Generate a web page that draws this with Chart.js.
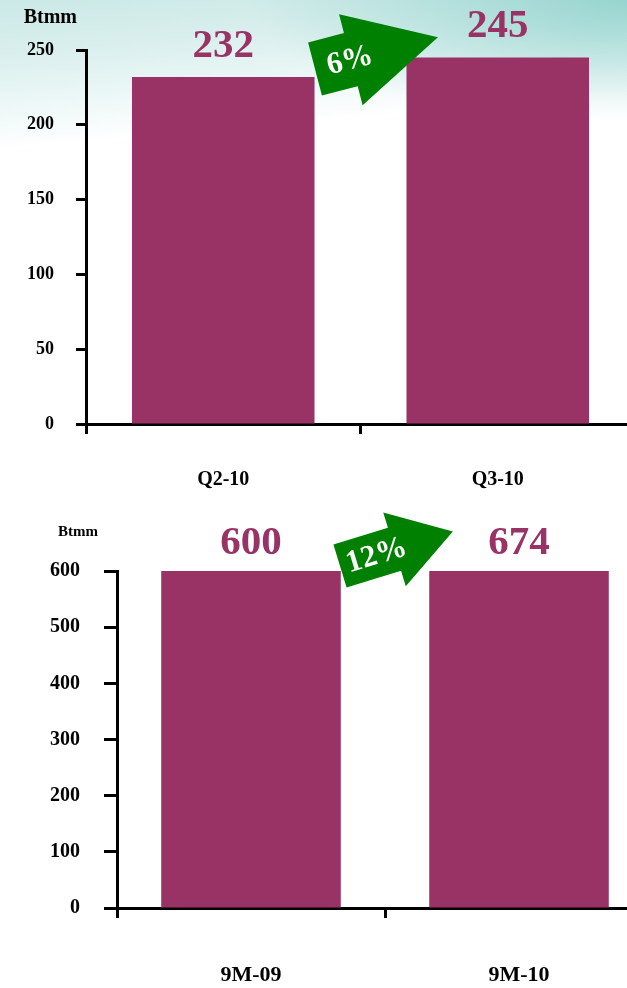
<!DOCTYPE html>
<html>
<head>
<meta charset="utf-8">
<script src="https://cdn.jsdelivr.net/npm/chart.js@4"></script>
<style>
  body { margin: 0; background: #fff; }
  #wrap {
    position: relative; width: 627px; height: 988px; overflow: hidden;
    background:
      radial-gradient(ellipse 380px 120px at 100% 0%, rgba(140,208,202,0.85) 0%, rgba(140,208,202,0) 100%),
      linear-gradient(175deg, #cbe9e6 0%, #d5edeb 40px, #e6f5f4 90px, #ffffff 150px);
  }
  canvas { position: absolute; left: 0; }
  #topChart { top: 0; }
  #bottomChart { top: 500px; }
</style>
</head>
<body>
<div id="wrap">
  <canvas id="topChart" width="640" height="500"></canvas>
  <canvas id="bottomChart" width="660" height="488"></canvas>
</div>
<script>
// quarterly volumes
const quarterLabels = ["Q2-10", "Q3-10"];
const quarterValues = [232, 245];
const quarterGrowth = "6%";

// nine-month volumes
const nineMonthLabels = ["9M-09", "9M-10"];
const nineMonthValues = [600, 674];
const nineMonthGrowth = "12%";

const unitLabel = "Btmm";
const barColor = "#993366";
const serif = "'Liberation Serif', 'Times New Roman', serif";

// value labels above the bars (clipped bars get their label at the top of the plot)
const valueLabels = {
  id: "valueLabels",
  afterDatasetsDraw(chart, args, opts) {
    const ctx = chart.ctx;
    const area = chart.chartArea;
    const meta = chart.getDatasetMeta(0);
    ctx.save();
    ctx.fillStyle = barColor;
    ctx.font = "bold " + opts.size + "px " + serif;
    ctx.textAlign = "center";
    ctx.textBaseline = "middle";
    meta.data.forEach(function (bar, i) {
      const y = Math.max(bar.y, area.top) - opts.offset;
      ctx.fillText(chart.data.datasets[0].data[i], bar.x, y);
    });
    ctx.restore();
  }
};

// unit text and the green growth arrow
const decorations = {
  id: "decorations",
  afterDraw(chart, args, opts) {
    const ctx = chart.ctx;
    ctx.save();
    ctx.fillStyle = "#000";
    ctx.font = "bold " + opts.unitSize + "px " + serif;
    ctx.textAlign = "right";
    ctx.textBaseline = "middle";
    ctx.fillText(unitLabel, opts.unitX, opts.unitY);

    const a = opts.arrow;
    ctx.translate(a.x, a.y);
    ctx.rotate(a.angle * Math.PI / 180);
    ctx.beginPath();
    ctx.moveTo(0, -a.shaftW / 2);
    ctx.lineTo(a.shaftLen, -a.shaftW / 2);
    ctx.lineTo(a.shaftLen, -a.headW / 2);
    ctx.lineTo(a.shaftLen + a.headLen, 0);
    ctx.lineTo(a.shaftLen, a.headW / 2);
    ctx.lineTo(a.shaftLen, a.shaftW / 2);
    ctx.lineTo(0, a.shaftW / 2);
    ctx.closePath();
    ctx.fillStyle = "#008000";
    ctx.fill();
    ctx.fillStyle = "#fff";
    ctx.font = "bold " + a.fontSize + "px " + serif;
    ctx.textAlign = "center";
    ctx.fillText(a.text, a.textX, 1);
    ctx.restore();
  }
};

function makeChart(id, labels, values, o) {
  new Chart(document.getElementById(id).getContext("2d"), {
    type: "bar",
    data: {
      labels: labels,
      datasets: [{
        data: values,
        backgroundColor: barColor,
        barPercentage: o.barPct,
        categoryPercentage: 1.0
      }]
    },
    options: {
      responsive: false,
      animation: false,
      layout: { padding: { top: o.padTop, right: o.padRight, left: 0, bottom: 0 } },
      plugins: {
        legend: { display: false },
        tooltip: { enabled: false },
        valueLabels: { size: 41, offset: o.labelOffset },
        decorations: o.deco
      },
      scales: {
        x: {
          grid: { drawOnChartArea: false, offset: true, tickLength: 10, tickWidth: 3, tickColor: "#000" },
          border: { color: "#000", width: 3 },
          ticks: { color: "#000", padding: o.xPad, font: { family: serif, weight: "bold", size: o.xFont } },
          afterFit: function (s) { s.height = o.xHeight; }
        },
        y: {
          min: 0,
          max: o.yMax,
          ticks: { stepSize: o.yStep, color: "#000", padding: o.yPad, font: { family: serif, weight: "bold", size: o.yFont } },
          grid: { drawOnChartArea: false, tickLength: o.yTick, tickWidth: 3, tickColor: "#000" },
          border: { color: "#000", width: 3 },
          afterFit: function (s) { s.width = o.yWidth; }
        }
      }
    },
    plugins: [valueLabels, decorations]
  });
}

makeChart("topChart", quarterLabels, quarterValues, {
  barPct: 0.665, padTop: 50, padRight: 5, labelOffset: 31,
  xPad: 34, xFont: 20, xHeight: 76,
  yMax: 250, yStep: 50, yPad: 22, yFont: 18, yTick: 10, yWidth: 86,
  deco: {
    unitSize: 20, unitX: 77, unitY: 18,
    arrow: { x: 315, y: 69, angle: -14.5, shaftLen: 37, shaftW: 55, headLen: 90, headW: 94, text: quarterGrowth, textX: 36, fontSize: 31 }
  }
});

makeChart("bottomChart", nineMonthLabels, nineMonthValues, {
  barPct: 0.67, padTop: 71, padRight: 7, labelOffset: 28,
  xPad: 44, xFont: 22, xHeight: 80,
  yMax: 600, yStep: 100, yPad: 24, yFont: 20, yTick: 13, yWidth: 117,
  deco: {
    unitSize: 15, unitX: 98, unitY: 32,
    arrow: { x: 340, y: 66, angle: -17, shaftLen: 57, shaftW: 45, headLen: 61, headW: 77, text: nineMonthGrowth, textX: 38, fontSize: 31 }
  }
});
</script>
</body>
</html>
